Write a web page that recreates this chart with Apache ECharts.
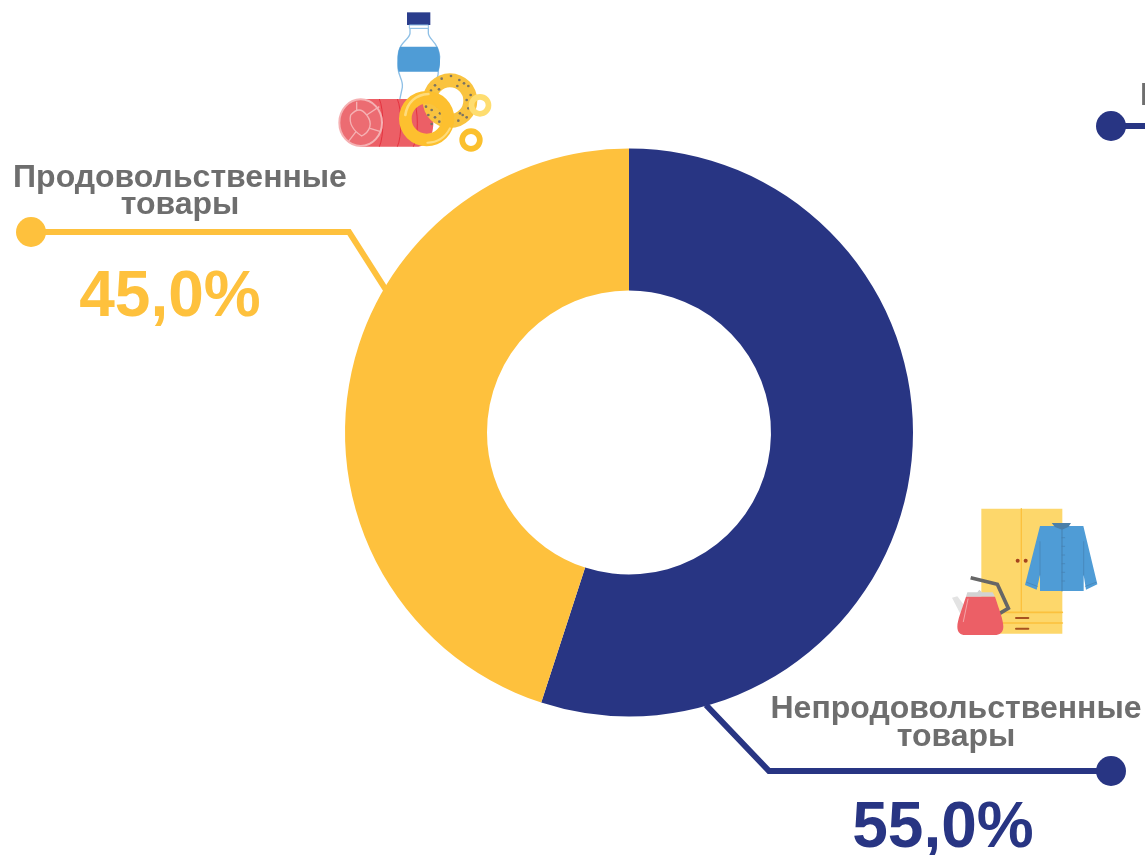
<!DOCTYPE html>
<html>
<head>
<meta charset="utf-8">
<style>
  html, body { margin: 0; padding: 0; background: #fff; }
  #chart { width: 1145px; height: 855px; }
</style>
</head>
<body>
<div id="chart"></div>
<script src="https://cdn.jsdelivr.net/npm/echarts@6/dist/echarts.min.js"></script>
<script>
const categories = ['Непродовольственные товары', 'Продовольственные товары']
const shares = [55.0, 45.0]

const NAVY = '#283583'
const YELLOW = '#fec13d'
const GREY = '#6e6e6e'
const RED = '#ec5f66'
const BLUE = '#4f9cd6'
const FONT = '"Liberation Sans", Arial, sans-serif'

const pct = (v) => v.toFixed(1).replace('.', ',') + '%'

function label(text, cx, y, size, color) {
  return {
    type: 'text',
    x: cx,
    y,
    z: 10,
    style: { text, fill: color, font: `bold ${size}px ${FONT}`, textAlign: 'center', textVerticalAlign: 'middle' },
  }
}

function callout(points, dot, color) {
  return [
    { type: 'polyline', z: 5, shape: { points }, style: { stroke: color, lineWidth: 6, fill: 'none' } },
    { type: 'circle', z: 6, shape: { cx: dot[0], cy: dot[1], r: 15 }, style: { fill: color } },
  ]
}

// the graphic component has no 'path' type, so each svg path gets its own registered shape
let pathCount = 0
function rawPath(d, style) {
  const name = 'iconPath' + pathCount++
  echarts.graphic.registerShape(name, echarts.graphic.extendPath(d, {}))
  return { type: name, style }
}

const ring = (cx, cy, r, r0, fill) => ({ type: 'ring', shape: { cx, cy, r, r0 }, style: { fill } })
const line = (x1, y1, x2, y2, stroke, lineWidth) => ({ type: 'line', shape: { x1, y1, x2, y2 }, style: { stroke, lineWidth, lineCap: 'round' } })

// poppy seeds on the bagels
const seeds = [
  [345, 256], [365, 236], [393, 228], [418, 240], [445, 258], [357, 268], [333, 272], [412, 258], [432, 250],
  [452, 285], [440, 300], [462, 300], [445, 325], [428, 345], [440, 352], [415, 362], [420, 340],
  [318, 320], [335, 330], [352, 318], [325, 345], [345, 352], [360, 340], [335, 372], [358, 365],
].map(([cx, cy]) => ({ type: 'circle', shape: { cx, cy, r: 4 }, style: { fill: '#7b7363' } }))

const foodIcon = {
  type: 'group',
  x: 320,
  y: 0,
  scaleX: 1 / 3,
  scaleY: 1 / 3,
  children: [
    rawPath('M270 85 L270 100 C268 120 236 125 234 170 L234 205 C236 230 250 240 247 262 L238 305 L330 305 L354 225 L359 170 C356 125 326 120 325 100 L325 85 Z',
      { fill: '#fff', stroke: '#8fc0e6', lineWidth: 4 }),
    rawPath('M240 140 L352 140 C358 155 360 165 360 185 C360 200 357 208 354 215 L236 215 C233 205 232 195 233 180 C233 160 236 150 240 140 Z', { fill: BLUE }),
    { type: 'rect', shape: { x: 261, y: 37, width: 70, height: 38 }, style: { fill: '#2a3d8c' } },
    { type: 'rect', shape: { x: 268, y: 75, width: 57, height: 10 }, style: { fill: '#fff', stroke: '#8fc0e6', lineWidth: 3 } },
    rawPath('M120 297 L290 297 C320 297 340 330 340 368 C340 410 320 440 290 440 L120 440 Z', { fill: RED }),
    rawPath('M178 297 C192 330 192 410 178 440 M232 297 C246 330 246 410 232 440 M280 297 C296 330 296 410 280 440', { fill: 'none', stroke: '#e5323e', lineWidth: 3 }),
    { type: 'ellipse', shape: { cx: 122, cy: 368, rx: 64, ry: 70 }, style: { fill: '#ec6c72', stroke: '#f5b1b3', lineWidth: 6 } },
    rawPath('M92 345 C110 325 125 325 140 345 C160 370 150 395 125 408 C105 395 85 375 92 345 M140 345 L178 320 M110 330 L110 305 M150 385 L182 395 M108 395 L85 425',
      { fill: 'none', stroke: '#f5b1b3', lineWidth: 4 }),
    ring(390, 302, 82, 40, '#f9c33f'),
    ...seeds,
    ring(320, 356, 83, 45, '#fdc02f'),
    rawPath('M256 345 C262 306 288 284 325 282', { fill: 'none', stroke: '#fedc7c', lineWidth: 8, lineCap: 'round' }),
    rawPath('M322 428 C352 428 376 412 390 385', { fill: 'none', stroke: '#fedc7c', lineWidth: 6, lineCap: 'round' }),
    ring(480, 316, 34, 17, '#fedd70'),
    ring(453, 420, 35, 18, '#fbc02d'),
  ],
}

const goodsIcon = {
  type: 'group',
  x: 940,
  y: 495,
  scaleX: 1 / 3,
  scaleY: 1 / 3,
  children: [
    { type: 'rect', shape: { x: 124, y: 41, width: 243, height: 375 }, style: { fill: '#fdd76b' } },
    line(244, 41, 244, 352, '#fcc13d', 4),
    line(124, 352, 367, 352, '#fcc13d', 5),
    line(124, 384, 367, 384, '#fcc13d', 5),
    { type: 'circle', shape: { cx: 233, cy: 197, r: 6 }, style: { fill: '#a5431d' } },
    { type: 'circle', shape: { cx: 257, cy: 197, r: 6 }, style: { fill: '#a5431d' } },
    line(228, 369, 265, 369, '#a8521f', 6),
    line(228, 401, 265, 401, '#a8521f', 6),
    rawPath('M300 93 L430 93 L472 268 L438 284 L431 240 L431 288 L300 288 L300 240 L290 284 L255 270 Z', { fill: BLUE }),
    rawPath('M335 84 L393 84 L385 96 L366 104 L345 96 Z', { fill: '#4b7fa8' }),
    line(366, 104, 366, 288, '#4681b0', 3),
    line(300, 140, 300, 240, '#4681b0', 2),
    line(431, 140, 431, 240, '#4681b0', 2),
    line(260, 262, 292, 274, '#4681b0', 2),
    line(436, 274, 468, 262, '#4681b0', 2),
    ...[128, 154, 180, 206, 232, 258].map((y) => line(366, y, 374, y, '#4681b0', 2)),
    rawPath('M36 308 L52 304 L72 330 L60 355 Z', { fill: '#e3e3e3' }),
    rawPath('M92 248 L172 268 L205 340 L178 356', { fill: 'none', stroke: '#666', lineWidth: 11 }),
    rawPath('M78 305 L82 292 L112 292 L118 284 L126 292 L158 292 L165 305 Z', { fill: '#d2d2d2' }),
    rawPath('M78 305 L165 305 C178 345 190 375 190 395 C190 412 178 420 165 420 L75 420 C62 420 52 412 52 395 C52 375 65 345 78 305 Z', { fill: RED }),
    line(84, 312, 70, 380, '#f4a4a7', 3),
  ],
}

const chart = echarts.init(document.getElementById('chart'), null, { renderer: 'canvas' })

chart.setOption({
  animation: false,
  backgroundColor: '#fff',
  series: [{
    type: 'pie',
    silent: true,
    center: [629, 432.5],
    radius: [142, 284],
    startAngle: 90,
    clockwise: true,
    label: { show: false },
    labelLine: { show: false },
    data: categories.map((name, i) => ({
      name,
      value: shares[i],
      itemStyle: { color: i === 0 ? NAVY : YELLOW },
    })),
  }],
  graphic: [
    ...callout([[31, 232], [349, 232], [386, 290]], [31, 232], YELLOW),
    ...callout([[1111, 771], [769, 771], [706, 705]], [1111, 771], NAVY),
    ...callout([[1111, 126], [1145, 126]], [1111, 126], NAVY),
    label('Продовольственные', 180, 178, 32, GREY),
    label('товары', 180, 205, 32, GREY),
    label(pct(shares[1]), 170, 298, 64, YELLOW),
    label('Непродовольственные', 956, 709, 32, GREY),
    label('товары', 956, 737, 32, GREY),
    label(pct(shares[0]), 943, 829, 64, NAVY),
    { type: 'text', x: 1140, y: 96, style: { text: 'Н', fill: GREY, font: `bold 32px ${FONT}`, textAlign: 'left', textVerticalAlign: 'middle' } },
    foodIcon,
    goodsIcon,
  ],
})
</script>
</body>
</html>
